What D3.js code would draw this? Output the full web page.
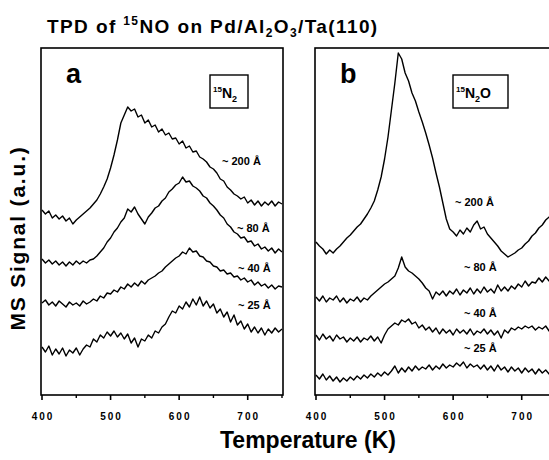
<!DOCTYPE html>
<html>
<head>
<meta charset="utf-8">
<script src="https://cdn.jsdelivr.net/npm/d3@7"></script>
<style>
  body { margin: 0; background: #fff; }
  text { font-family: "Liberation Sans", Arial, sans-serif; font-weight: bold; fill: #000; }
</style>
</head>
<body>
<div id="chart"></div>
<script>
// Temperature grid (K)
const temps = [400,405,410,415,420,425,430,435,440,445,450,455,460,465,470,475,480,485,490,495,
  500,505,510,515,520,525,530,535,540,545,550,555,560,565,570,575,580,585,590,595,
  600,605,610,615,620,625,630,635,640,645,650,655,660,665,670,675,680,685,690,695,
  700,705,710,715,720,725,730,735,740,745,750];

// Panel a: 15N2 signal (offset traces, a.u.)
const n2_200 = [185,181,184,177,180,176,179,174,177,171,175,178,181,184,187,191,195,201,208,216,
  227,240,255,272,280,288,284,286,278,280,272,275,268,270,263,266,260,262,256,257,
  251,254,247,249,243,244,238,236,233,228,226,222,216,214,208,205,201,199,196,198,
  192,195,190,194,189,193,190,194,189,193,191];
const n2_80 = [136,132,135,131,134,130,133,129,133,130,134,131,134,132,135,136,139,143,147,153,
  157,163,167,173,177,186,183,188,181,176,171,178,182,187,189,194,197,203,206,210,
  212,218,213,214,209,207,204,199,197,192,189,185,180,177,171,168,163,161,157,158,
  153,154,149,151,146,148,144,147,142,146,143];
const n2_40 = [92,95,90,93,89,94,91,88,93,90,92,89,94,91,93,96,94,99,97,102,
  101,105,103,108,106,111,108,112,109,114,111,115,117,119,122,124,128,131,134,137,
  139,143,141,147,143,144,139,138,134,133,129,128,124,125,121,122,118,119,115,117,
  113,115,110,113,109,111,107,110,106,109,108];
const n2_25 = [48,43,49,40,46,41,47,39,45,42,47,40,46,50,48,56,53,60,57,63,
  59,64,58,62,56,61,52,57,48,56,54,60,57,64,62,68,71,78,84,82,
  89,86,93,88,96,90,98,89,94,87,91,82,86,78,83,73,80,70,74,66,
  71,63,68,62,67,60,66,62,67,63,66];

// Panel b: 15N2O signal
const n2o_200 = [153,149,146,141,145,142,146,149,153,157,160,164,168,171,176,181,187,194,205,218,
  236,258,285,312,342,336,322,314,302,294,283,273,262,250,237,222,208,192,176,166,
  163,159,165,161,167,163,170,174,166,168,161,157,153,149,144,141,138,140,142,145,
  147,151,154,159,162,167,170,175,178,181,185];
const n2o_80 = [98,94,99,93,97,95,99,93,97,92,96,94,98,93,97,95,99,102,105,108,
  111,113,116,119,127,138,128,124,122,119,116,112,107,104,96,103,100,104,99,104,
  101,106,100,105,102,107,101,106,102,108,103,106,102,110,104,108,104,109,106,111,
  108,114,109,113,112,117,113,118,114,117,115];
const n2o_40 = [60,55,61,56,59,54,60,56,58,53,57,54,58,53,57,55,59,54,58,52,
  60,66,69,72,70,75,73,76,71,73,67,70,65,68,63,67,61,66,62,65,
  60,66,62,65,61,66,60,64,62,66,61,65,60,64,57,65,62,67,65,68,
  66,69,67,69,65,68,66,69,64,67,66];
const n2o_25 = [20,16,21,15,19,14,18,13,17,14,18,15,19,16,20,17,21,18,22,19,
  23,20,24,29,22,27,23,28,24,29,25,28,26,30,25,29,26,31,27,30,
  28,32,29,33,27,31,28,30,26,30,25,29,24,30,25,28,23,28,24,27,
  22,27,23,26,21,26,22,25,21,25,22];

const thickness = ["~ 200 Å", "~ 80 Å", "~ 40 Å", "~ 25 Å"];
const xTicks = [400, 500, 600, 700];
const xMinor = [450, 550, 650, 750];

const width = 549, height = 460;
const plotTop = 48, plotBottom = 395;

const svg = d3.select("#chart").append("svg")
  .attr("width", width)
  .attr("height", height);

// y scale shared by both panels (arbitrary units)
const y = d3.scaleLinear().domain([0, 347]).range([plotBottom, plotTop]);

const panels = [
  { letter: "a", range: [42, 282], series: [n2_200, n2_80, n2_40, n2_25],
    species: ["15", "N", "2", ""], box: [210, 75, 38, 33],
    labelPos: [[222, 165], [237, 232], [238, 272], [238, 309]] },
  { letter: "b", range: [316, 556], series: [n2o_200, n2o_80, n2o_40, n2o_25],
    species: ["15", "N", "2", "O"], box: [453, 75, 55, 33],
    labelPos: [[455, 206], [464, 271], [464, 317], [464, 352]] }
];

svg.append("defs").append("clipPath").attr("id", "clipAll")
  .append("rect").attr("x", 0).attr("y", plotTop - 2)
  .attr("width", width).attr("height", plotBottom - plotTop + 2);

panels.forEach(p => {
  const x = d3.scaleLinear().domain([400, 750]).range(p.range);
  const g = svg.append("g");

  // frame
  g.append("rect")
    .attr("x", p.range[0] - 1)
    .attr("y", plotTop)
    .attr("width", p.range[1] - p.range[0] + 2)
    .attr("height", plotBottom - plotTop)
    .attr("fill", "none")
    .attr("stroke", "#000")
    .attr("stroke-width", 1.6);

  // bottom axis
  const axis = g.append("g").attr("transform", `translate(0,${plotBottom})`);
  axis.selectAll(".major").data(xTicks).join("line")
    .attr("class", "major")
    .attr("x1", d => x(d)).attr("x2", d => x(d))
    .attr("y1", 0).attr("y2", 5)
    .attr("stroke", "#000").attr("stroke-width", 1.6);
  axis.selectAll(".minor").data(xMinor).join("line")
    .attr("class", "minor")
    .attr("x1", d => x(d)).attr("x2", d => x(d))
    .attr("y1", 0).attr("y2", 3)
    .attr("stroke", "#000").attr("stroke-width", 1.4);
  axis.selectAll("text").data(xTicks).join("text")
    .attr("x", d => x(d) + 1)
    .attr("y", 25)
    .attr("text-anchor", "middle")
    .attr("font-size", 10)
    .attr("letter-spacing", 2)
    .text(d => d);

  // traces
  const line = d3.line()
    .x((d, i) => x(temps[i]))
    .y(d => y(d));
  g.append("g").attr("clip-path", "url(#clipAll)")
    .selectAll("path").data(p.series).join("path")
    .attr("d", line)
    .attr("fill", "none")
    .attr("stroke", "#000")
    .attr("stroke-width", 1.4)
    .attr("stroke-linejoin", "round");

  // thickness labels
  g.selectAll(".lab").data(thickness).join("text")
    .attr("class", "lab")
    .attr("x", (d, i) => p.labelPos[i][0])
    .attr("y", (d, i) => p.labelPos[i][1])
    .attr("font-size", 11)
    .text(d => d);

  // panel letter
  g.append("text")
    .attr("x", p.range[0] + 24)
    .attr("y", 83)
    .attr("font-size", 27)
    .text(p.letter);

  // species box
  const [bx, by, bw, bh] = p.box;
  g.append("rect")
    .attr("x", bx).attr("y", by).attr("width", bw).attr("height", bh)
    .attr("fill", "none").attr("stroke", "#000").attr("stroke-width", 1.4);
  const st = g.append("text").attr("x", bx + 3).attr("y", by + 23).attr("font-size", 14);
  st.append("tspan").attr("font-size", 8).attr("dy", -6).text(p.species[0]);
  st.append("tspan").attr("dy", 6).text(p.species[1]);
  st.append("tspan").attr("font-size", 9).attr("dy", 4).text(p.species[2]);
  if (p.species[3]) st.append("tspan").attr("dy", -4).text(p.species[3]);
});

// title
const title = svg.append("text").attr("x", 47).attr("y", 33).attr("font-size", 19)
  .attr("letter-spacing", 1.4);
title.append("tspan").text("TPD of ");
title.append("tspan").attr("font-size", 12).attr("dy", -8).text("15");
title.append("tspan").attr("dy", 8).text("NO on Pd/Al");
title.append("tspan").attr("font-size", 12).attr("dy", 4).text("2");
title.append("tspan").attr("dy", -4).text("O");
title.append("tspan").attr("font-size", 12).attr("dy", 4).text("3");
title.append("tspan").attr("dy", -4).text("/Ta(110)");

// axis titles
svg.append("text")
  .attr("x", 308).attr("y", 448)
  .attr("text-anchor", "middle")
  .attr("font-size", 23)
  .text("Temperature (K)");

svg.append("text")
  .attr("transform", "translate(25,238) rotate(-90)")
  .attr("text-anchor", "middle")
  .attr("font-size", 21)
  .attr("letter-spacing", 1.8)
  .text("MS Signal (a.u.)");
</script>
</body>
</html>
